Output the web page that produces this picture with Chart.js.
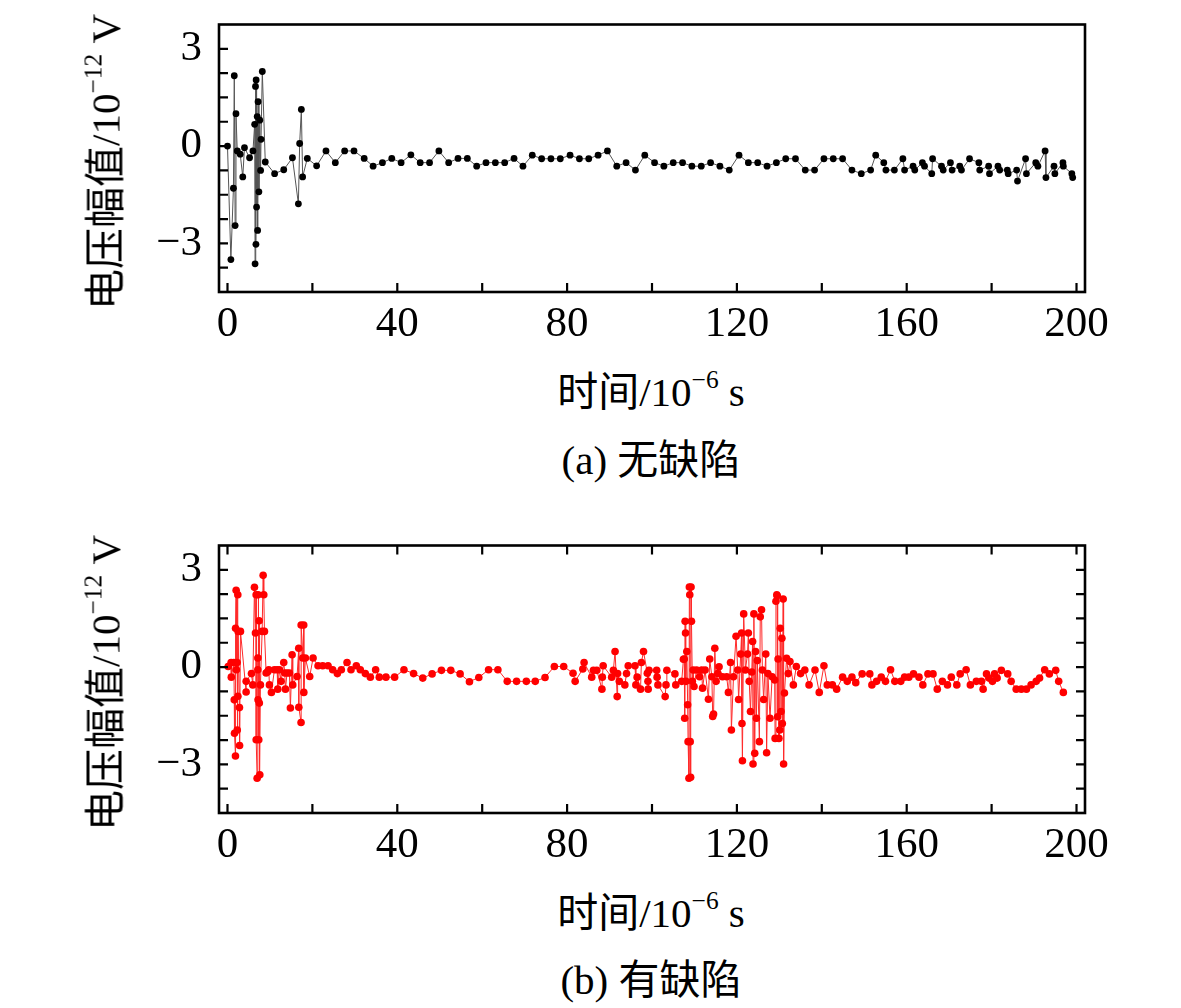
<!DOCTYPE html>
<html>
<head>
<meta charset="utf-8">
<script src="https://cdn.jsdelivr.net/npm/chart.js@4.4.1/dist/chart.umd.min.js"></script>
<style>
  body { margin:0; background:#fff; width:1181px; height:1008px; position:relative; overflow:hidden;
         font-family:'Liberation Serif','Noto Sans CJK SC',serif; color:#000; }
  .panel { position:absolute; left:0; width:1181px; height:360px; }
  .txt { position:absolute; font-size:41px; line-height:42px; white-space:nowrap; transform:translateX(-50%); }
  .ytitle { position:absolute; font-size:41px; line-height:42px; white-space:nowrap;
            transform:translate(-50%,-50%) rotate(-90deg); }
  sup { font-size:0.62em; vertical-align:0; position:relative; top:-0.7em; }
</style>
</head>
<body>
<div class="panel" style="top:0"><canvas id="chartA" width="1181" height="360"></canvas></div>
<div class="panel" style="top:521px"><canvas id="chartB" width="1181" height="360"></canvas></div>

<div class="ytitle" style="left:108px;top:162px">电压幅值/10<sup>−12</sup> V</div>
<div class="txt" style="left:651px;top:371px">时间/10<sup>−6</sup> s</div>
<div class="txt" style="left:651px;top:439px">(a) 无缺陷</div>

<div class="ytitle" style="left:108px;top:683px">电压幅值/10<sup>−12</sup> V</div>
<div class="txt" style="left:651px;top:892px">时间/10<sup>−6</sup> s</div>
<div class="txt" style="left:651px;top:959px">(b) 有缺陷</div>

<script>
// axis ticks
const xTicks = [0, 20, 40, 60, 80, 100, 120, 140, 160, 180, 200];
const xLabelVals = [0, 40, 80, 120, 160, 200];
const yTicks = [-3.75, -3, -2.25, -1.5, -0.75, 0, 0.75, 1.5, 2.25, 3];
const yLabelVals = [3, 0, -3];

// (a) 无缺陷
const topTime = [0, 0.8, 1.4, 1.6, 1.8, 2.0, 2.3, 3.0, 3.6, 4.0, 5.2, 6.0, 6.4, 6.5, 6.6, 6.7, 6.75, 6.85, 7.0, 7.1,
  7.2, 7.4, 7.6, 7.8, 7.9, 8.2, 8.9, 11.1, 13.25, 15.3, 16.7, 17.0, 17.4, 17.7, 18.8, 21.0, 23.2, 25.4, 27.6, 29.8,
  32.2, 34.3, 36.5, 38.7, 40.9, 43.2, 45.4, 47.6, 49.8, 52.1, 54.3, 56.5, 58.7, 60.9, 63.1, 65.3, 67.5, 69.6, 71.8, 74.0,
  76.2, 78.4, 80.7, 82.9, 85.1, 87.3, 89.5, 91.7, 93.9, 96.1, 98.3, 100.6, 102.8, 105.0, 107.2, 109.4, 111.6, 113.8, 116.0, 118.2,
  120.5, 122.7, 124.9, 127.1, 129.3, 131.5, 133.8, 136.1, 138.3, 140.5, 142.7, 144.9, 147.1, 149.3, 151.5, 152.7, 154.6, 155.1, 157.1, 159.1,
  159.5, 161.5, 161.9, 163.7, 164.2, 165.9, 166.1, 168.2, 168.6, 170.3, 170.7, 172.5, 172.9, 174.8, 177.0, 177.2, 179.3, 179.5, 181.5, 181.9,
  183.7, 183.9, 185.9, 186.1, 188.0, 188.2, 190.4, 190.9, 192.6, 192.8, 194.7, 194.9, 196.8, 196.9, 198.9, 199.1];
const topVolt = [0, -3.5, -1.3, 2.17, -2.45, 1.0, -0.15, -0.25, -0.95, -0.05, -0.36, -0.15, 0.67, -3.63, 1.84, -3.03, 2.04, -1.88, 0.91, -2.6,
  1.37, -1.41, 0.8, -0.75, 0.21, 2.3, -0.49, -0.85, -0.73, -0.36, -1.78, 0.08, 1.13, -0.95, -0.38, -0.61, -0.15, -0.51, -0.15, -0.15,
  -0.38, -0.62, -0.51, -0.38, -0.51, -0.27, -0.51, -0.51, -0.15, -0.51, -0.38, -0.38, -0.62, -0.51, -0.51, -0.51, -0.38, -0.62, -0.28, -0.39,
  -0.39, -0.39, -0.28, -0.39, -0.39, -0.28, -0.15, -0.62, -0.51, -0.74, -0.28, -0.51, -0.62, -0.51, -0.51, -0.62, -0.62, -0.51, -0.62, -0.74,
  -0.28, -0.51, -0.51, -0.62, -0.51, -0.39, -0.39, -0.74, -0.74, -0.39, -0.39, -0.39, -0.74, -0.85, -0.74, -0.28, -0.51, -0.74, -0.74, -0.39,
  -0.74, -0.62, -0.74, -0.51, -0.62, -0.85, -0.39, -0.62, -0.74, -0.51, -0.74, -0.62, -0.74, -0.39, -0.51, -0.74, -0.62, -0.85, -0.62, -0.74,
  -0.74, -0.85, -0.74, -1.08, -0.39, -0.85, -0.51, -0.62, -0.15, -0.97, -0.62, -0.85, -0.51, -0.62, -0.85, -0.97];

// (b) 有缺陷
const botTime = [0.16, 0.85, 0.9, 1.49, 1.6, 1.65, 1.88, 1.9, 2.04, 2.1, 2.27, 2.3, 2.43, 2.45, 2.5, 2.82, 2.85, 3.06, 4.39, 4.4,
  5.65, 5.96, 6.35, 6.59, 6.75, 6.76, 6.98, 7.14, 7.15, 7.2, 7.22, 7.37, 7.45, 7.5, 7.61, 7.76, 8.16, 8.4, 8.55, 8.71,
  9.1, 9.49, 9.73, 9.88, 10.35, 11.06, 11.69, 11.84, 12.24, 12.63, 13.25, 13.49, 13.65, 14.04, 14.59, 14.82, 15.22, 15.37, 16.39, 16.78,
  16.8, 17.33, 17.35, 17.73, 17.96, 17.98, 18.35, 19.37, 20.16, 21.33, 22.43, 23.69, 24.78, 25.88, 26.82, 28.16, 29.1, 30.35, 31.29, 32.47,
  33.65, 34.9, 35.76, 37.33, 39.37, 41.57, 43.84, 46.0, 48.2, 50.4, 52.6, 54.8, 57.0, 59.2, 61.5, 63.7, 65.9, 68.1, 70.4, 72.5,
  74.8, 77.0, 79.2, 81.4, 81.9, 83.7, 84.0, 85.8, 86.2, 87.0, 88.2, 88.3, 88.5, 90.5, 90.9, 91.3, 91.8, 91.9, 92.3, 93.6,
  94.0, 94.4, 96.0, 96.2, 96.5, 97.3, 97.5, 98.0, 98.9, 99.05, 99.1, 99.3, 101.1, 101.2, 101.4, 103.1, 103.3, 103.5, 105.4, 105.6,
  107.0, 107.4, 107.6, 107.7, 107.8, 107.9, 108.0, 108.2, 108.4, 108.5, 108.7, 108.8, 108.9, 109.0, 109.1, 109.2, 109.3, 109.5, 109.7, 109.9,
  110.5, 111.2, 111.7, 111.9, 112.5, 113.3, 113.6, 114.1, 114.3, 114.5, 114.8, 115.1, 115.5, 115.8, 116.6, 117.6, 118.0, 118.5, 118.7, 119.2,
  119.8, 120.2, 120.4, 120.9, 121.1, 121.2, 121.3, 121.6, 122.0, 122.5, 122.7, 122.9, 123.2, 123.5, 123.7, 123.8, 124.0, 124.2, 124.4, 124.6,
  124.8, 125.3, 125.5, 125.8, 126.0, 126.3, 126.8, 127.0, 127.3, 127.8, 128.3, 128.9, 129.0, 129.2, 129.4, 129.5, 129.6, 129.7, 129.9, 130.1,
  130.2, 130.4, 130.6, 130.7, 130.9, 131.0, 131.2, 131.7, 132.1, 132.5, 133.3, 134.0, 135.0, 136.0, 137.0, 138.4, 139.4, 140.5, 141.3, 142.5,
  143.5, 144.9, 146.0, 147.1, 148.0, 149.5, 151.3, 151.8, 152.9, 154.0, 155.0, 156.2, 157.2, 158.6, 159.5, 160.5, 161.6, 162.9, 163.8, 165.0,
  166.2, 167.2, 168.4, 169.6, 170.5, 171.8, 172.6, 174.0, 175.0, 176.4, 177.6, 178.0, 178.8, 179.4, 180.2, 180.7, 181.3, 182.3, 183.8, 184.6,
  185.8, 187.0, 188.2, 189.3, 190.5, 191.3, 192.5, 193.6, 195.1, 195.8, 196.9];
const botVolt = [0.02, 0.14, -0.31, 0.14, -1.01, -2.04, -2.74, 1.2, 2.37, -0.08, 0.14, -1.94, 2.23, -0.9, 1.1, -1.25, -2.42, 1.1, -0.77, -0.44,
  -0.2, -0.55, 2.46, 1.05, 2.23, -2.24, -3.43, -0.08, 0.28, -1.01, 2.23, -2.24, 1.43, -1.11, -3.32, -0.55, 1.1, 2.83, 2.23, 1.1,
  -0.18, -0.14, -0.08, -0.55, -0.78, -0.08, -0.08, -0.68, -0.08, -0.44, 0.14, -0.18, -0.68, -0.18, -0.18, -1.26, 0.38, -0.55, -0.29, 0.58,
  -1.24, -1.71, 1.3, 0.28, 1.3, -0.78, 0.28, -0.29, 0.28, 0.04, 0.04, 0.04, -0.08, -0.2, -0.08, 0.14, -0.08, 0.04, -0.08, -0.2,
  -0.31, -0.08, -0.31, -0.31, -0.31, -0.08, -0.2, -0.34, -0.21, -0.1, -0.1, -0.21, -0.45, -0.32, -0.08, -0.08, -0.44, -0.44, -0.44, -0.44,
  -0.32, 0.02, 0.02, -0.19, -0.44, -0.06, 0.14, -0.31, -0.1, -0.1, -0.68, -0.31, 0.04, -0.31, -0.1, 0.48, -0.91, -0.2, -0.44, -0.55,
  -0.2, 0.04, 0.04, -0.55, -0.31, -0.68, 0.14, 0.48, -0.19, -0.44, -0.68, -0.1, -0.1, -0.31, -0.55, -0.91, -0.55, -0.1, -0.21, -0.55,
  -0.44, 0.24, 0.25, -1.58, 1.41, 1.05, -0.44, 0.48, -1.16, -2.3, -3.43, 2.47, 2.23, -2.3, -3.4, 2.47, 1.41, -0.44, -0.09, -0.6,
  -0.09, -0.3, -0.09, -0.65, -0.09, -0.99, 0.25, -0.3, -1.52, -1.45, 0.58, -0.44, -0.2, 0.01, -0.3, -0.3, -0.78, 0.14, -1.94, -0.3,
  0.95, -0.09, -1.0, 0.4, 1.05, -1.74, -2.89, 1.64, -0.09, 0.4, 1.05, -0.44, -1.37, -0.15, 0.79, -2.99, 1.64, -2.66, 0.48, -1.58,
  0.2, -2.3, 1.55, 1.77, -0.09, -1.0, 0.4, -2.64, -0.2, -1.58, -0.3, -0.4, -2.2, 2.03, 2.23, 2.2, -1.53, 0.25, -2.2, -1.94,
  1.2, -1.37, 0.89, -1.74, 2.1, -2.99, -0.8, 0.27, -0.2, 0.17, -0.55, 0.02, -0.2, -0.09, -0.55, -0.09, -0.78, 0.04, -0.55, -0.55,
  -0.68, -0.31, -0.44, -0.31, -0.48, -0.21, -0.21, -0.55, -0.44, -0.31, -0.44, -0.08, -0.44, -0.44, -0.31, -0.31, -0.21, -0.31, -0.55, -0.21,
  -0.21, -0.68, -0.44, -0.55, -0.31, -0.55, -0.21, -0.08, -0.55, -0.44, -0.44, -0.68, -0.21, -0.34, -0.44, -0.21, -0.34, -0.1, -0.21, -0.44,
  -0.68, -0.68, -0.68, -0.55, -0.44, -0.34, -0.08, -0.21, -0.1, -0.44, -0.78];

const TICK_FONT = { family: "'Liberation Serif', 'Times New Roman', serif", size: 43 };

// frame + inward tick marks (the original draws ticks inside the box)
const framePlugin = {
  id: 'frame',
  afterDraw(chart, args, opts) {
    const { ctx, chartArea: a, scales: { x, y } } = chart;
    const len = 9;
    ctx.save();
    ctx.strokeStyle = '#000';
    ctx.lineWidth = 2.2;
    ctx.beginPath();
    x.ticks.forEach(t => {
      const px = x.getPixelForValue(t.value);
      ctx.moveTo(px, a.bottom); ctx.lineTo(px, a.bottom - len);
      if (opts.mirror) { ctx.moveTo(px, a.top); ctx.lineTo(px, a.top + len); }
    });
    y.ticks.forEach(t => {
      const py = y.getPixelForValue(t.value);
      ctx.moveTo(a.left, py); ctx.lineTo(a.left + len, py);
      if (opts.mirror) { ctx.moveTo(a.right, py); ctx.lineTo(a.right - len, py); }
    });
    ctx.stroke();
    ctx.lineWidth = 2.6;
    ctx.strokeRect(a.left, a.top, a.right - a.left, a.bottom - a.top);
    ctx.restore();
  }
};

function makeChart(id, times, volts, color, lineColor, radius, mirror) {
  const pts = times.map((t, i) => ({ x: t, y: volts[i] }));
  return new Chart(document.getElementById(id), {
    type: 'line',
    data: {
      datasets: [{
        data: pts,
        borderColor: lineColor, borderWidth: 1,
        pointBackgroundColor: color, pointBorderColor: color,
        pointRadius: radius, pointBorderWidth: 0, pointStyle: 'circle',
        tension: 0, fill: false
      }]
    },
    options: {
      responsive: false, animation: false, devicePixelRatio: 1,
      layout: { padding: { top: 24.5, right: 96, left: 0, bottom: 0 } },
      plugins: { legend: { display: false }, tooltip: { enabled: false }, frame: { mirror } },
      scales: {
        x: {
          type: 'linear', min: -2, max: 202,
          afterBuildTicks: s => { s.ticks = xTicks.map(v => ({ value: v })); },
          afterFit: s => { s.height = 68; s.paddingLeft = 0; s.paddingRight = 0; },
          grid: { display: false, drawTicks: false }, border: { display: false },
          ticks: { autoSkip: false, maxRotation: 0, padding: 7, color: '#000', font: TICK_FONT,
                   callback: v => xLabelVals.includes(v) ? String(v) : '' }
        },
        y: {
          type: 'linear', min: -4.5, max: 3.75,
          afterBuildTicks: s => { s.ticks = yTicks.map(v => ({ value: v })); },
          afterFit: s => { s.width = 219; s.paddingTop = 0; s.paddingBottom = 0; },
          grid: { display: false, drawTicks: false }, border: { display: false },
          ticks: { autoSkip: false, padding: 17, color: '#000', font: TICK_FONT,
                   callback: v => yLabelVals.includes(v) ? String(v).replace('-', '\u2212') : '' }
        }
      }
    },
    plugins: [framePlugin]
  });
}

makeChart('chartA', topTime, topVolt, '#000', '#555', 3.4, false);
makeChart('chartB', botTime, botVolt, '#ff0000', '#ff2a2a', 3.8, true);
</script>
</body>
</html>
